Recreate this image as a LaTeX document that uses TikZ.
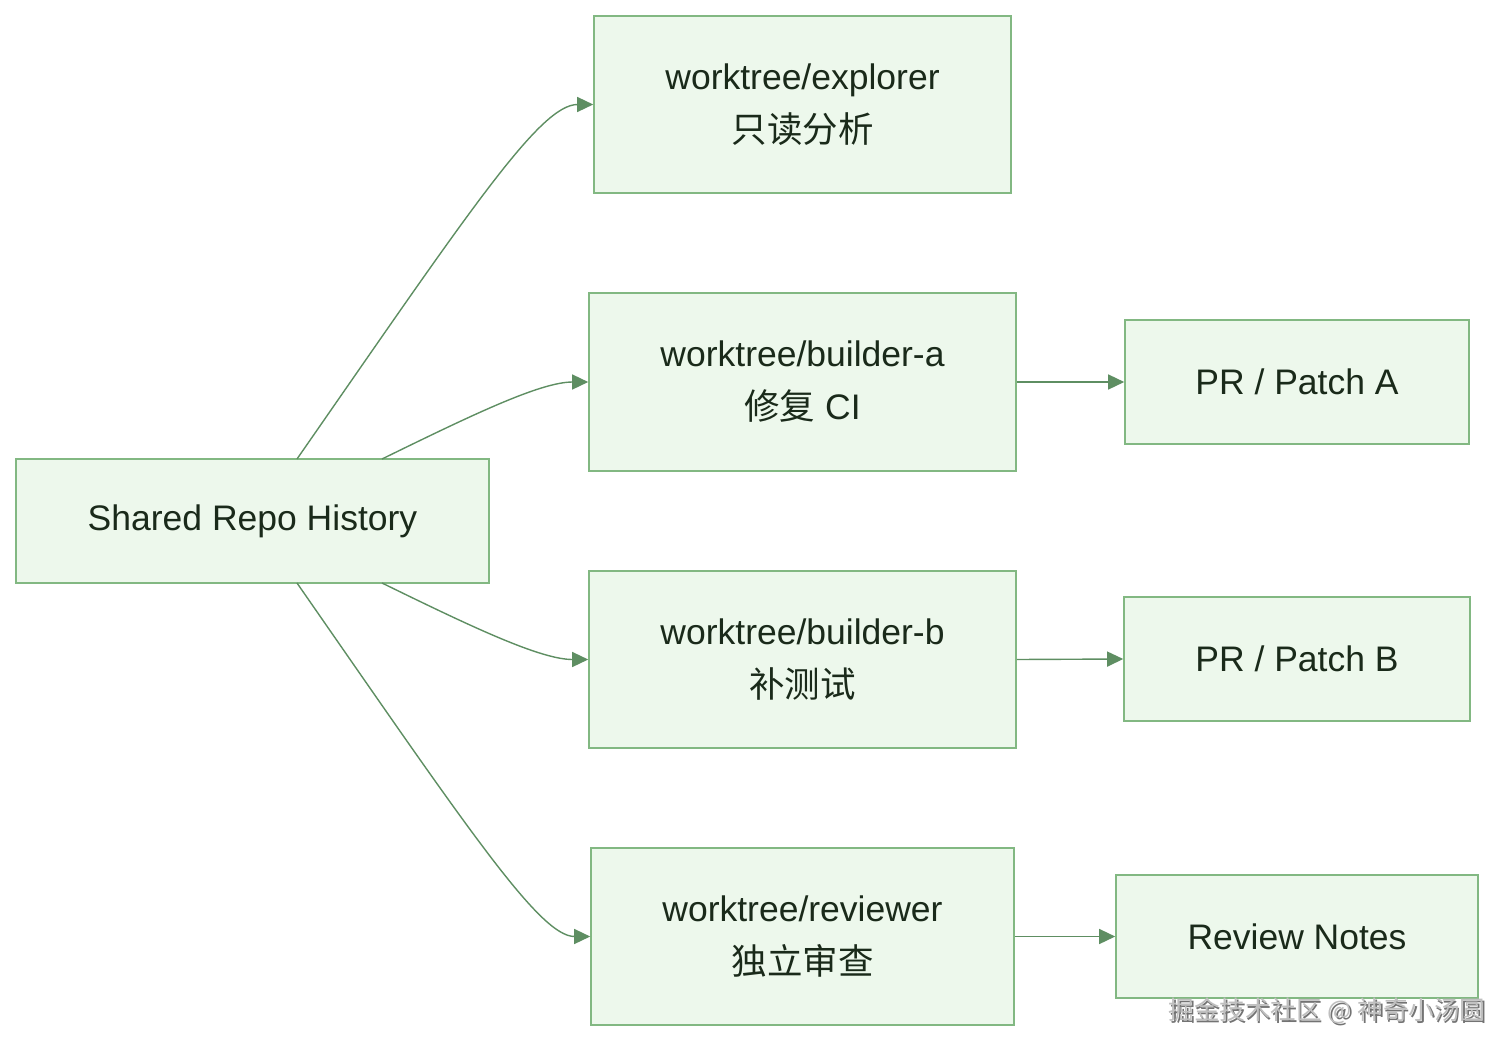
\documentclass[tikz,border=0pt]{standalone}
\usepackage{fontspec}
\setmainfont{Liberation Sans}
\newfontfamily\cjk{Noto Sans CJK SC}
\usetikzlibrary{arrows.meta}
\definecolor{boxfill}{HTML}{EDF8EC}
\definecolor{boxline}{HTML}{82B882}
\definecolor{edgecol}{HTML}{5E8E62}
\definecolor{txt}{HTML}{1A2A1A}
\begin{document}
\begin{tikzpicture}[x=1pt,y=-1pt,
  box/.style={draw=boxline,fill=boxfill,line width=1.6pt,inner sep=0pt,align=center,
    text=txt,font=\fontsize{35.5}{53}\selectfont},
  conn/.style={draw=edgecol,line width=1.4pt,-{Triangle[length=16pt,width=15pt]}},
  wm/.style={font=\cjk\fontsize{25.5}{27}\selectfont}]
\useasboundingbox (0,0) rectangle (1510,1052);
\node[box,minimum width=473pt,minimum height=124pt] (shared) at (252.5,521) {Shared Repo History};
\node[box,minimum width=417pt,minimum height=177pt] (explorer) at (802.5,104.5) {worktree/explorer\\{\cjk 只读分析}};
\node[box,minimum width=427pt,minimum height=178pt] (ba) at (802.5,382) {worktree/builder-a\\{\cjk 修复} CI};
\node[box,minimum width=427pt,minimum height=177pt] (bb) at (802.5,659.5) {worktree/builder-b\\{\cjk 补测试}};
\node[box,minimum width=423pt,minimum height=177pt] (rv) at (802.5,936.5) {worktree/reviewer\\{\cjk 独立审查}};
\node[box,minimum width=344pt,minimum height=124pt] (pa) at (1297,382) {PR / Patch A};
\node[box,minimum width=346pt,minimum height=124pt] (pb) at (1297,659) {PR / Patch B};
\node[box,minimum width=362pt,minimum height=123pt] (rn) at (1297,936.5) {Review Notes};
\coordinate (s1) at (297,459);
\coordinate (s2) at (382,459);
\coordinate (s3) at (382,583);
\coordinate (s4) at (297,583);
\path[conn] (s1) .. controls (470,210) and (540,104.5) .. (explorer.west);
\path[conn] (s2) .. controls (470,416) and (540,382) .. (ba.west);
\path[conn] (s3) .. controls (470,626) and (540,659.5) .. (bb.west);
\path[conn] (s4) .. controls (470,832) and (540,936.5) .. (rv.west);
\path[conn] (ba.east) -- (pa.west);
\path[conn] (bb.east) -- (pb.west);
\path[conn] (rv.east) -- (rn.west);
\node[wm,text=black!55] at (1328.5,1012.5) {掘金技术社区 @ 神奇小汤圆};
\node[wm,text=black!25] (wmark) at (1327,1011) {掘金技术社区 @ 神奇小汤圆};
\end{tikzpicture}
\end{document}
